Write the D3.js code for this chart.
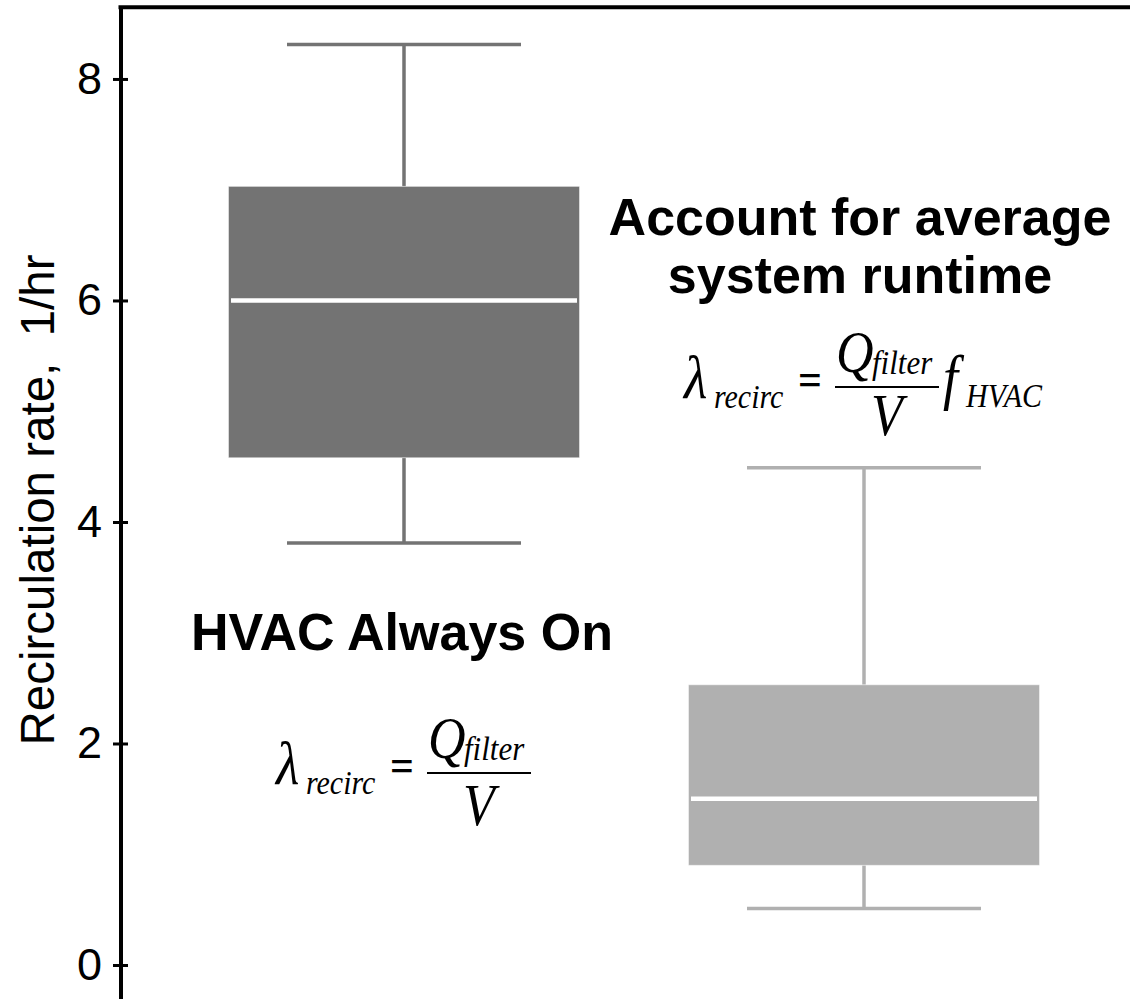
<!DOCTYPE html>
<html>
<head>
<meta charset="utf-8">
<script src="https://cdn.jsdelivr.net/npm/d3@7"></script>
<style>
  html, body { margin: 0; padding: 0; background: #fff; }
  svg { display: block; }
</style>
</head>
<body>
<svg id="chart" width="1130" height="999"></svg>
<script>
// ---- data ----
const categories = ["HVAC Always On", "Account for average system runtime"];
const whiskerLow  = [3.81, 0.51];
const q1          = [4.58, 0.90];
const median      = [6.00, 1.50];
const q3          = [7.03, 2.53];
const whiskerHigh = [8.31, 4.49];
const boxColors   = ["#737373", "#b0b0b0"];
const yTicks      = [0, 2, 4, 6, 8];
const yLabel      = "Recirculation rate,  1/hr";
const titleLines1 = ["HVAC Always On"];
const titleLines2 = ["Account for average", "system runtime"];

// ---- layout ----
const svg = d3.select("#chart");
const W = 1130, H = 999;
const axisX = 120.5;

const y = d3.scaleLinear().domain([-0.307, 8.647]).range([H, 7.3]);
const x = d3.scaleBand().domain(categories).range([174, 1094])
  .paddingInner(0.237).paddingOuter(0.1185);

const sans = "'Liberation Sans', Arial, Helvetica, sans-serif";
const serif = "'Liberation Serif', 'Times New Roman', Times, serif";

// top frame line
svg.append("line")
  .attr("x1", axisX - 2).attr("x2", W)
  .attr("y1", y(8.647)).attr("y2", y(8.647))
  .attr("stroke", "#000").attr("stroke-width", 4);

// y axis
const yAxis = d3.axisLeft(y).tickValues(yTicks).tickSizeInner(7.5).tickSizeOuter(0).tickPadding(11);
const gy = svg.append("g").attr("transform", `translate(${axisX},0)`).call(yAxis);
gy.select(".domain").attr("stroke", "#000").attr("stroke-width", 4);
gy.selectAll(".tick line").attr("x1", 7.5).attr("x2", -7.5).attr("stroke", "#000").attr("stroke-width", 3);
gy.selectAll(".tick text").attr("font-family", sans).attr("font-size", 45).attr("fill", "#000");

// y label
svg.append("text")
  .attr("transform", `translate(54,${(255 + 745) / 2}) rotate(-90)`)
  .attr("text-anchor", "middle")
  .attr("font-family", sans).attr("font-size", 47.5)
  .style("white-space", "pre")
  .attr("fill", "#000")
  .text(yLabel);

// boxes
const bw = x.bandwidth();
categories.forEach((c, i) => {
  const x0 = x(c), cx = x0 + bw / 2, col = boxColors[i];
  const g = svg.append("g");
  g.append("line").attr("x1", cx).attr("x2", cx).attr("y1", y(whiskerHigh[i])).attr("y2", y(q3[i]))
    .attr("stroke", col).attr("stroke-width", 3.5);
  g.append("line").attr("x1", cx).attr("x2", cx).attr("y1", y(q1[i])).attr("y2", y(whiskerLow[i]))
    .attr("stroke", col).attr("stroke-width", 3.5);
  [whiskerHigh[i], whiskerLow[i]].forEach(v => {
    g.append("line").attr("x1", cx - bw / 3).attr("x2", cx + bw / 3).attr("y1", y(v)).attr("y2", y(v))
      .attr("stroke", col).attr("stroke-width", 3.5);
  });
  g.append("rect").attr("x", x0).attr("width", bw)
    .attr("y", y(q3[i])).attr("height", y(q1[i]) - y(q3[i]))
    .attr("fill", col).attr("stroke", "#fff").attr("stroke-opacity", 0.45).attr("stroke-width", 1);
  g.append("line").attr("x1", x0 + 2.5).attr("x2", x0 + bw - 2.5)
    .attr("y1", y(median[i])).attr("y2", y(median[i]))
    .attr("stroke", "#fff").attr("stroke-width", 4.5);
});

// titles
function title(lines, cx, baseline) {
  const t = svg.append("text").attr("text-anchor", "middle")
    .attr("font-family", sans).attr("font-weight", "bold").attr("font-size", 52).attr("fill", "#000");
  lines.forEach((l, k) => t.append("tspan").attr("x", cx).attr("y", baseline + k * 58).text(l));
}
title(titleLines1, 402, 650);
title(titleLines2, 860, 235);

// formulas
function formula(bx, by, vBase, withF) {
  const g = svg.append("g").attr("transform", `translate(${bx},${by})`)
    .attr("font-family", serif).attr("fill", "#000");
  const t = (xx, yy, size, txt, opts = {}) => {
    const e = g.append("text").attr("transform", `translate(${xx},${yy}) scale(1,1.12)`)
      .attr("font-size", size).attr("font-style", opts.upright ? "normal" : "italic")
      .attr("font-weight", opts.bold ? "bold" : "normal")
      .attr("text-anchor", opts.anchor || "start").text(txt);
    return e;
  };
  t(-151, 11, 54, "λ");
  t(-121, 21, 30, "recirc");
  t(-37, 8, 42, "=", { upright: true, bold: true });
  g.append("line").attr("x1", 0).attr("x2", 104).attr("y1", 0).attr("y2", 0).attr("stroke", "#000").attr("stroke-width", 2);
  t(1, -15, 52, "Q");
  t(37, -13, 31, "filter");
  t(52, vBase, 52, "V", { anchor: "middle" });
  if (withF) {
    t(108, 11, 54, "f");
    t(131, 20, 30, "HVAC");
  }
}
formula(835, 387, 48, true);
formula(427, 773, 52, false);
</script>
</body>
</html>
